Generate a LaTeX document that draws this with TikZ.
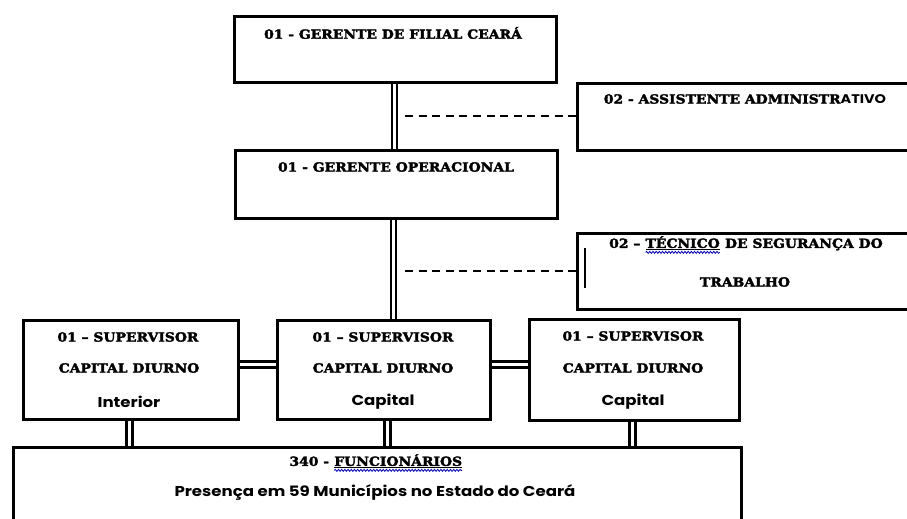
\documentclass[tikz,border=0pt]{standalone}
\usepackage{fontspec}
\usetikzlibrary{decorations.pathmorphing}
\newfontfamily\hd{DejaVu Serif}[UprightFont=* Bold, FakeBold=2.6, FakeStretch=1.11]
\newfontfamily\bd{Poppins}[UprightFont=* Bold, FakeStretch=1.16]
\newsavebox\wvbox
\newcommand\wvy[1]{\sbox\wvbox{\underline{#1}}\tikz[baseline=0pt]{\node[inner sep=0pt, outer sep=0pt, anchor=base west] (wvword) at (0pt,0pt) {\usebox\wvbox};\draw[draw=blue!70!black, line width=0.8pt, decorate, decoration={snake, amplitude=1pt, segment length=3.2pt}] (0pt,-4.5pt) -- (\wd\wvbox,-4.5pt);}}
\tikzset{
  box/.style={draw=black, line width=3pt, fill=white, inner sep=0pt, anchor=north west},
  hdtext/.style={font=\hd\fontsize{12.5}{14}\selectfont, inner sep=0pt},
  bdtext/.style={font=\bd\fontsize{14.3}{16}\selectfont, inner sep=0pt},
  dblup/.style={draw=black, line width=2.3pt, double=white, double distance=2.5pt},
  dbllow/.style={draw=black, line width=2.6pt, double=white, double distance=3.4pt},
  dashline/.style={draw=black, line width=2pt, dash pattern=on 8pt off 5.6pt}
}
\begin{document}
\begin{tikzpicture}[x=1pt,y=-1pt]
\clip (0,0) rectangle (907,519);
\fill[white] (0,0) rectangle (907,519);
% boxes
\node[box, minimum width=322pt, minimum height=66pt] (top) at (233,15) {};
\node[box, minimum width=340pt, minimum height=67pt] (asst) at (576,82) {};
\node[box, minimum width=322pt, minimum height=68pt] (gerop) at (234,149) {};
\node[box, minimum width=340pt, minimum height=76pt] (tec) at (576,232) {};
\node[box, minimum width=215pt, minimum height=99pt] (sup1) at (22,319) {};
\node[box, minimum width=213pt, minimum height=99pt] (sup2) at (276,319) {};
\node[box, minimum width=210pt, minimum height=101pt] (sup3) at (528,317.5) {};
\node[box, minimum width=728pt, minimum height=100pt] (bot) at (12,446) {};
% texts
\node[hdtext] (ttop) at (393,33) {01 - GERENTE DE FILIAL CEARÁ};
\node[hdtext] (tasst) at (745,99) {02 - ASSISTENTE ADMINISTR{\bd ATIVO}};
\node[hdtext] (tgerop) at (396,167) {01 - GERENTE OPERACIONAL};
\node[hdtext] (ttec1) at (746,245) {02 – \wvy{TÉCNICO} DE SEGURANÇA DO};
\node[hdtext] (ttec2) at (745,282) {TRABALHO};
\node[hdtext] (ts1a) at (128,337) {01 – SUPERVISOR};
\node[hdtext] (ts1b) at (129,368) {CAPITAL DIURNO};
\node[bdtext] (ts1c) at (129,402) {Interior};
\node[hdtext] (ts2a) at (383,337) {01 – SUPERVISOR};
\node[hdtext] (ts2b) at (383,368) {CAPITAL DIURNO};
\node[bdtext] (ts2c) at (383,402) {Capital};
\node[hdtext] (ts3a) at (633,336) {01 – SUPERVISOR};
\node[hdtext] (ts3b) at (633,368) {CAPITAL DIURNO};
\node[bdtext] (ts3c) at (633,402) {Capital};
\node[hdtext] (tbot1) at (376,463) {340 - \wvy{FUNCIONÁRIOS}};
\node[bdtext] (tbot2) at (375,492) {Presença em 59 Municípios no Estado do Ceará};
% cursor mark
\draw[line width=1.4pt] (585,248) -- (585,288);
% connectors
\draw[dblup] ([xshift=-1pt]top.south) -- ([xshift=-1pt]top.south |- gerop.north);
\draw[dblup] ([xshift=-3pt]gerop.south) -- ([xshift=-3pt]gerop.south |- sup2.north);
\coordinate (d1) at (405,116);
\coordinate (d2) at (405,271);
\draw[dashline] (d1) -- (d1 -| asst.west);
\draw[dashline] (d2) -- (d2 -| tec.west);
\draw[dbllow] ([yshift=5.5pt]sup1.east) -- ([yshift=5.5pt]sup1.east -| sup2.west);
\draw[dbllow] ([yshift=5.5pt]sup2.east) -- ([yshift=5.5pt]sup2.east -| sup3.west);
\draw[dbllow] ([xshift=-1.5pt]sup1.south) -- ([xshift=-1.5pt]sup1.south |- bot.north);
\draw[dbllow] ([xshift=3.5pt]sup2.south) -- ([xshift=3.5pt]sup2.south |- bot.north);
\draw[dbllow] ([xshift=-2pt]sup3.south) -- ([xshift=-2pt]sup3.south |- bot.north);
\end{tikzpicture}
\end{document}
